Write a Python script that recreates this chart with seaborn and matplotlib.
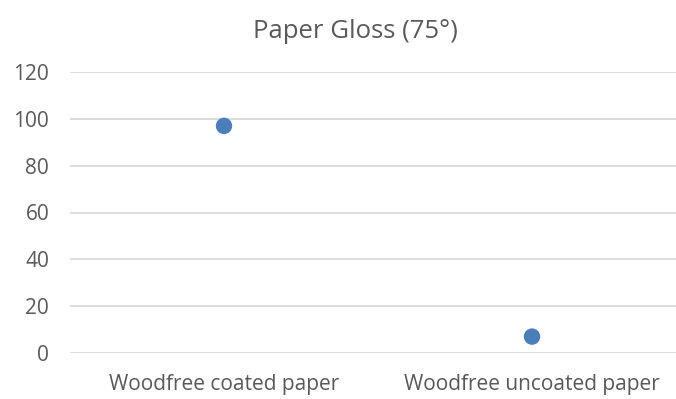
import matplotlib
matplotlib.use("Agg")
import matplotlib.pyplot as plt
import seaborn as sns
import pandas as pd

# Gloss readings at 75 degrees
categories = ["Woodfree coated paper", "Woodfree uncoated paper"]
gloss = [97, 7]
y_ticks = [0, 20, 40, 60, 80, 100, 120]

sns.set_theme(style="white")
plt.rcParams["font.family"] = ["Open Sans", "DejaVu Sans"]

W, H = 676, 399
fig = plt.figure(figsize=(W / 100, H / 100), dpi=100)
ax = fig.add_axes([70 / W, (H - 353) / H, 606 / W, 281 / H])

df = pd.DataFrame({"category": categories, "gloss": gloss})
sns.scatterplot(data=df, x="category", y="gloss", ax=ax, s=140,
                color="#4a7ebb", edgecolor="none", clip_on=False, zorder=3)

ax.set_ylim(0, 120)
ax.set_xlim(-0.5, 1.4675)
ax.set_yticks(y_ticks)
ax.yaxis.grid(True, color="#d9d9d9", linewidth=1.3)
ax.set_axisbelow(True)
for s in ax.spines.values():
    s.set_visible(False)
ax.set_xlabel("")
ax.set_ylabel("")
ax.tick_params(axis="both", length=0, labelsize=15, colors="#595959")
ax.tick_params(axis="x", pad=15)
ax.tick_params(axis="y", pad=15)

fig.text(355 / W, 1 - 31 / H, "Paper Gloss (75°)", ha="center", va="center",
         fontsize=18.5, color="#595959")

fig.savefig("out.png", dpi=100, facecolor="white")
